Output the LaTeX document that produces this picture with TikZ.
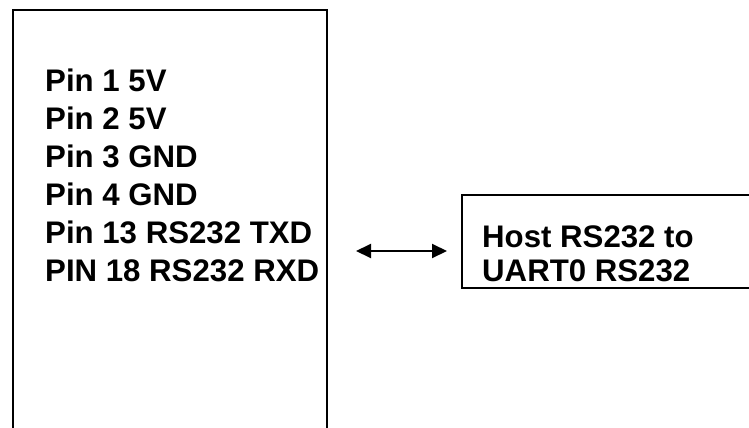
\documentclass[tikz,border=0pt]{standalone}
\usepackage{fontspec}
\setmainfont{Liberation Sans}
\usetikzlibrary{arrows.meta,positioning}

\tikzset{
  blockbox/.style={draw=black, line width=2pt, rectangle, inner sep=0pt, anchor=north west},
  pinlabel/.style={anchor=base west, inner sep=0pt, font=\fontsize{31.2}{38}\selectfont\bfseries},
  link/.style={line width=2pt, {Triangle[length=15pt,width=14pt]}-{Triangle[length=15pt,width=14pt]}}
}

\begin{document}
\begin{tikzpicture}[x=1pt,y=-1pt]
  \useasboundingbox (0,0) rectangle (749,428);
  \clip (0,0) rectangle (749,428);

  % connector board, runs past the lower edge
  \node[blockbox, minimum width=314pt, minimum height=470pt] (board) at (12,9) {};
  \foreach \txt [count=\i] in {Pin 1 5V, Pin 2 5V, Pin 3 GND, Pin 4 GND,
                               Pin 13 RS232 TXD, PIN 18 RS232 RXD}
    \node[pinlabel] (pin\i) at (45,{91+38*(\i-1)}) {\txt};

  % host side, runs past the right edge
  \node[blockbox, minimum width=320pt, minimum height=93pt] (host) at (461,194) {};
  \node[pinlabel] (hosta) at (482,247) {Host RS232 to};
  \node[pinlabel] (hostb) at (482,281) {UART0 RS232};

  \coordinate (linkl) at (356,251);
  \coordinate (linkr) at (447,251);
  \draw[link] (linkl) -- (linkr);
\end{tikzpicture}
\end{document}
